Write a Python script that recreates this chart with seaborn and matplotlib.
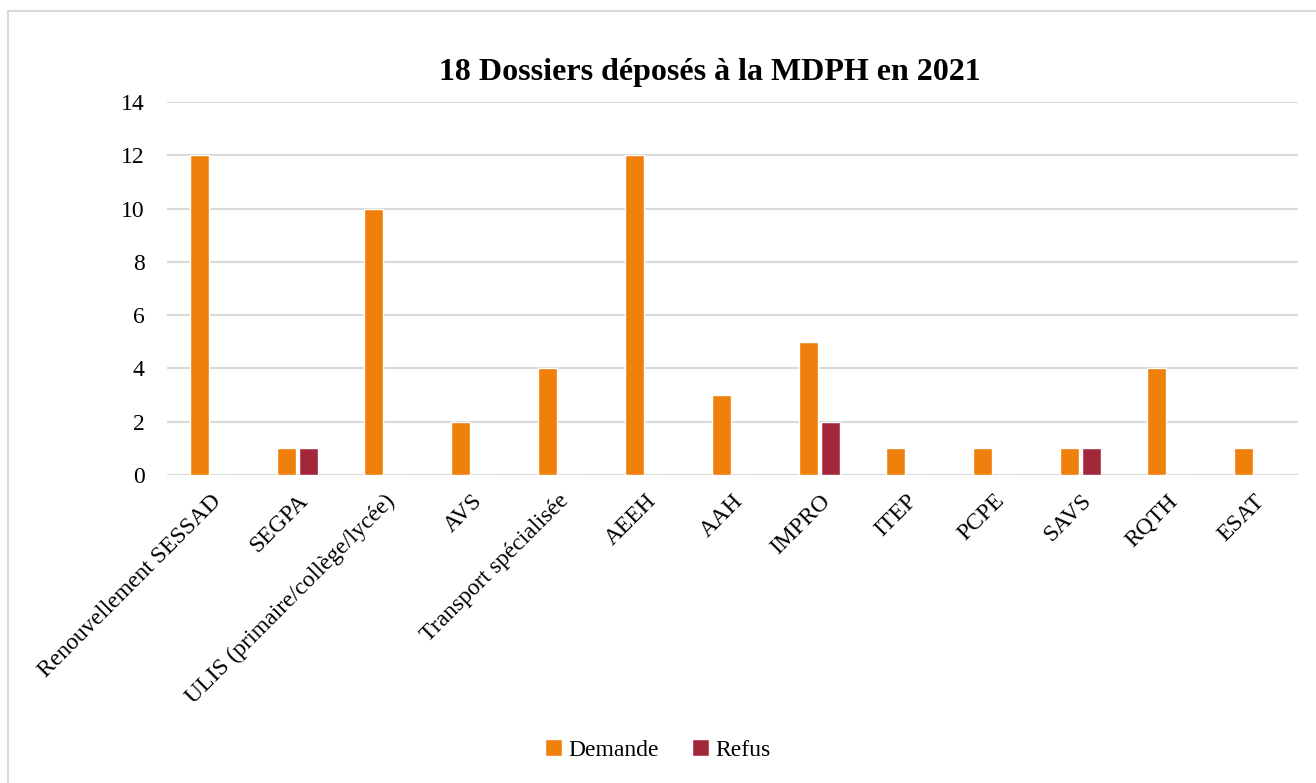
import pandas as pd
import numpy as np
import matplotlib
matplotlib.use("Agg")
import matplotlib.pyplot as plt
import seaborn as sns
from matplotlib.patches import Rectangle

categories = ["Renouvellement SESSAD", "SEGPA", "ULIS (primaire/collège/lycée)", "AVS",
              "Transport spécialisée", "AEEH", "AAH", "IMPRO", "ITEP", "PCPE", "SAVS",
              "RQTH", "ESAT"]
demande = [12, 1, 10, 2, 4, 12, 3, 5, 1, 1, 1, 4, 1]
refus = [0, 1, 0, 0, 0, 0, 0, 2, 0, 0, 1, 0, 0]
series = ["Demande", "Refus"]
colors = ["#F0800C", "#A3273A"]

df = pd.DataFrame({
    "cat": categories * 2,
    "val": demande + refus,
    "serie": [series[0]] * len(categories) + [series[1]] * len(categories),
})

sns.set_style("white")
plt.rcParams["font.family"] = ["Liberation Serif", "DejaVu Serif"]
plt.rcParams["text.color"] = "black"
plt.rcParams["xtick.color"] = "black"
plt.rcParams["ytick.color"] = "black"

fig = plt.figure(figsize=(13.16, 7.83), dpi=100)
ax = fig.add_axes([0.1269, 0.3934, 0.8594, 0.4763])

sns.barplot(data=df, x="cat", y="val", hue="serie", palette=colors, width=0.5,
            gap=0.12, saturation=1, ax=ax, legend=True)

ax.set_ylim(0, 14)
ax.set_xlim(-0.5, len(categories) - 0.5)
ax.set_yticks(range(0, 15, 2))
ax.yaxis.grid(True, color="#D9D9D9", linewidth=1.5)
ax.set_axisbelow(True)
for s in ["top", "right", "left", "bottom"]:
    ax.spines[s].set_visible(False)
ax.axhline(0, color="#D9D9D9", linewidth=1.5, zorder=0)
ax.set_xlabel("")
ax.set_ylabel("")
ax.tick_params(axis="y", labelsize=17, length=0, pad=16, labelcolor="black")
ax.tick_params(axis="x", labelsize=17, length=0, pad=11, labelcolor="black")
plt.setp(ax.get_xticklabels(), rotation=45, ha="right", rotation_mode="anchor")

ax.set_title("18 Dossiers déposés à la MDPH en 2021", fontsize=23, fontweight="bold",
             x=(709.5 - 167) / 1131, pad=16, color="black")

leg = ax.legend(loc="center", bbox_to_anchor=(0.5, 1 - 750 / 783),
                bbox_transform=fig.transFigure, ncol=2, frameon=False, fontsize=17,
                handlelength=0.7, handleheight=0.7, handletextpad=0.3, columnspacing=1.4)
for t in leg.get_texts():
    t.set_color("black")

fig.patches.append(Rectangle((8 / 1316, -0.01), 1.0, 1 - 11 / 783 + 0.01,
                             transform=fig.transFigure, fill=False,
                             edgecolor="#D9D9D9", linewidth=1.5))

fig.savefig("out.png", dpi=100)
